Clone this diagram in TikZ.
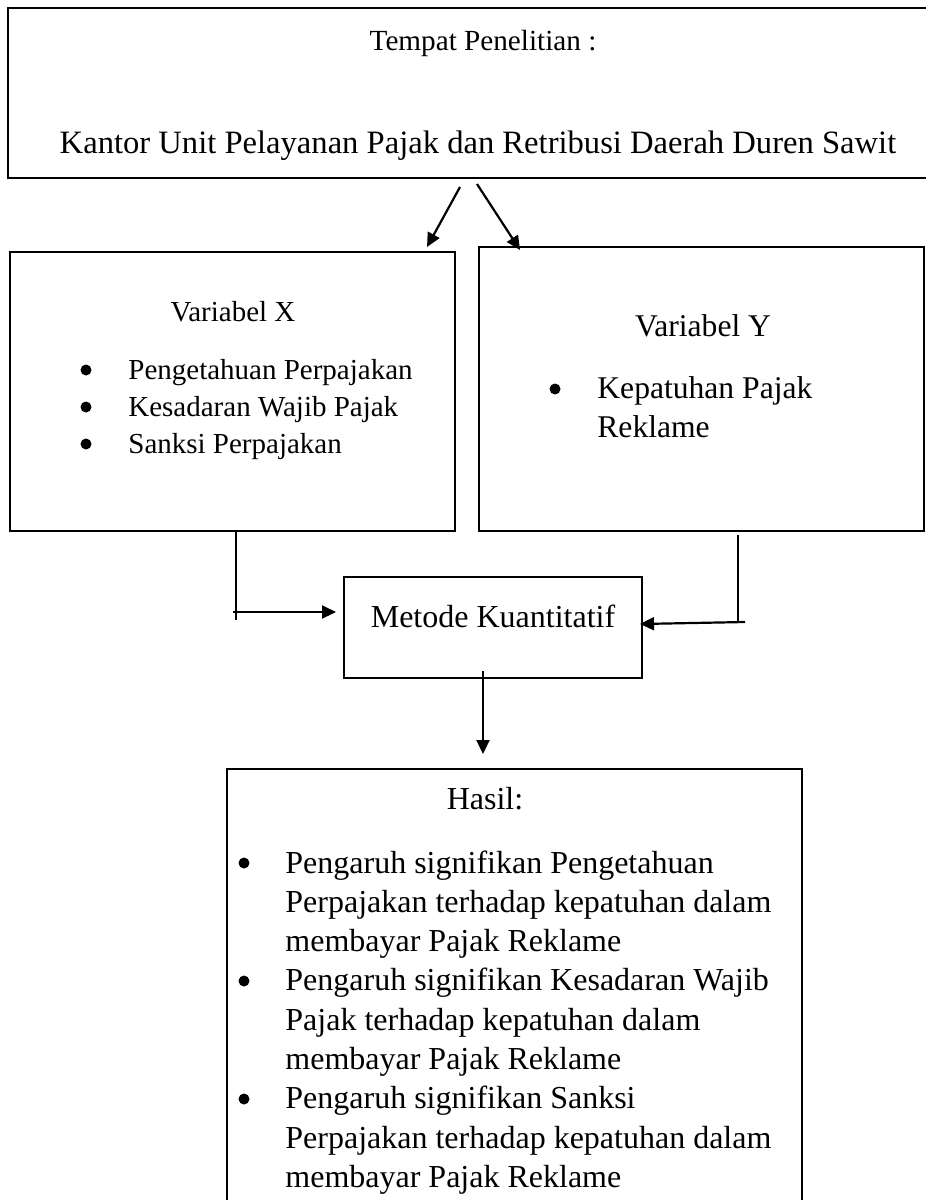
\documentclass[tikz,border=0pt]{standalone}
\usepackage{fontspec}
\setmainfont{Liberation Serif}
\usetikzlibrary{arrows.meta,fit}
\newcommand\myfs[1]{\fontsize{#1}{#1}\selectfont}
\begin{document}
\begin{tikzpicture}[x=0.5pt,y=-0.5pt,
  box/.style={draw, line width=1.2pt, inner sep=0pt, rectangle},
  conn/.style={line width=1.1pt},
  arr/.style={line width=1.1pt, -{Triangle[length=7pt,width=6.5pt]}},
  txt/.style={inner sep=0pt, anchor=base},
  ltxt/.style={inner sep=0pt, anchor=base west},
  bul/.style={circle, fill, inner sep=0pt, minimum size=5.5pt}]
\useasboundingbox (0,0) rectangle (926,1200);
\clip (0,0) rectangle (926,1200);

% boxes
\node[box, fit={(8,8) (940,178)}] (top) {};
\node[box, fit={(10,252) (455,531)}] (xbox) {};
\node[box, fit={(479,247) (924,531)}] (ybox) {};
\node[box, fit={(344,577) (642,678)}] (metode) {};
\node[box, fit={(227,769) (802,1220)}] (hasil) {};

% top box text
\node[txt] (tempat) at (483,50) {\myfs{14.6}Tempat Penelitian :};
\node[txt] (kantor) at (478,153) {\myfs{16.3}Kantor Unit Pelayanan Pajak dan Retribusi Daerah Duren Sawit};

% variabel X
\node[txt] (vx) at (233,321) {\myfs{14.5}Variabel X};
\node[ltxt] (x1) at (128,379) {\myfs{14.5}Pengetahuan Perpajakan};
\node[ltxt] (x2) at (128,416) {\myfs{14.5}Kesadaran Wajib Pajak};
\node[ltxt] (x3) at (128,453) {\myfs{14.5}Sanksi Perpajakan};
\node[bul] (bx1) at (86,370) {};
\node[bul] (bx2) at (86,407) {};
\node[bul] (bx3) at (86,444) {};

% variabel Y
\node[txt] (vy) at (703,336) {\myfs{15.8}Variabel Y};
\node[ltxt] (y1) at (597,398) {\myfs{15.8}Kepatuhan Pajak};
\node[ltxt] (y2) at (597,437) {\myfs{15.8}Reklame};
\node[bul] (by1) at (555,389) {};

% metode
\node[txt] (mk) at (493,627) {\myfs{16}Metode Kuantitatif};

% hasil
\node[txt] (hs) at (485,809) {\myfs{16}Hasil:};
\foreach \t [count=\i] in {Pengaruh signifikan Pengetahuan,
  Perpajakan terhadap kepatuhan dalam,
  membayar Pajak Reklame,
  Pengaruh signifikan Kesadaran Wajib,
  Pajak terhadap kepatuhan dalam,
  membayar Pajak Reklame,
  Pengaruh signifikan Sanksi,
  Perpajakan terhadap kepatuhan dalam,
  membayar Pajak Reklame}
  \node[ltxt] (h\i) at (285,{873+(\i-1)*39.3}) {\myfs{16}\t};
\node[bul] (bh1) at (244,863) {};
\node[bul] (bh2) at (244,981) {};
\node[bul] (bh3) at (244,1099) {};

% connectors
\coordinate (a1s) at (460,187);
\coordinate (a1e) at (427,247);
\coordinate (a2s) at (477,184);
\coordinate (a2e) at (520,250);
\draw[arr] (a1s) -- (a1e);
\draw[arr] (a2s) -- (a2e);

\coordinate (l1) at (236,531);
\coordinate (l2) at (236,620);
\coordinate (l3) at (233,612);
\coordinate (l4) at (336,612);
\draw[conn] (l1) -- (l2);
\draw[arr] (l3) -- (l4);

\coordinate (r1) at (738,535);
\coordinate (r2) at (738,621);
\coordinate (r3) at (745,622);
\coordinate (r4) at (640,624);
\draw[conn] (r1) -- (r2);
\draw[arr] (r3) -- (r4);

\coordinate (d1) at (483,671);
\coordinate (d2) at (483,754);
\draw[arr] (d1) -- (d2);
\end{tikzpicture}
\end{document}
